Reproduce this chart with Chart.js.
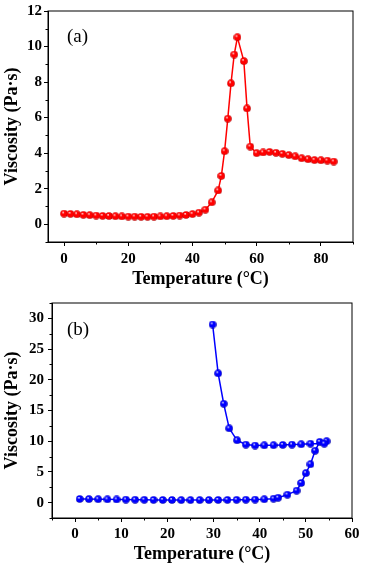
<!DOCTYPE html>
<html>
<head>
<meta charset="utf-8">
<script src="https://cdn.jsdelivr.net/npm/chart.js@4.4.0/dist/chart.umd.min.js"></script>
<style>
    html, body { margin: 0; padding: 0; background: #fff; }
    #wrap { position: relative; width: 365px; height: 567px; }
    canvas { position: absolute; left: 0; }
    #chart-a { top: 0; }
    #chart-b { top: 290px; }
</style>
</head>
<body>
<div id="wrap">
    <canvas id="chart-a" width="365" height="290"></canvas>
    <canvas id="chart-b" width="365" height="277"></canvas>
</div>
<script>
// panel (a)
const tempA = [0, 2, 4, 6, 8, 10, 12, 14, 16, 18, 20, 22, 24, 26, 28, 30, 32, 34, 36, 38, 40, 42, 44, 46, 48,
    49, 50, 51, 52, 53, 54, 56, 57, 58, 60, 62, 64, 66, 68, 70, 72, 74, 76, 78, 80, 82, 84];
const viscA = [0.60, 0.58, 0.56, 0.53, 0.51, 0.49, 0.47, 0.46, 0.45, 0.44, 0.43, 0.43, 0.42, 0.42, 0.43, 0.44, 0.45, 0.47, 0.49, 0.52, 0.57, 0.65, 0.82, 1.23, 1.90,
    2.72, 4.11, 5.94, 7.93, 9.55, 10.52, 9.18, 6.52, 4.37, 4.00, 4.04, 4.07, 4.02, 3.96, 3.89, 3.82, 3.71, 3.66, 3.61, 3.60, 3.58, 3.53];
const xTicksA = [0, 20, 40, 60, 80];
const xMinorA = [10, 30, 50, 70, 90];
const yTicksA = [0, 2, 4, 6, 8, 10, 12];
const yMinorA = [-1, 1, 3, 5, 7, 9, 11];

// panel (b): heating branch, then cooling branch back down to 30 °C
const tempB = [1, 3, 5, 7, 9, 11, 13, 15, 17, 19, 21, 23, 25, 27, 29, 31, 33, 35, 37, 39, 41, 43, 44, 46, 48, 49, 50, 51, 52, 53, 54.5, 54,
    51, 49, 47, 45, 43, 41, 39, 37, 35.1, 33.4, 32.2, 31, 29.8];
const viscB = [0.60, 0.58, 0.56, 0.54, 0.52, 0.50, 0.48, 0.47, 0.45, 0.44, 0.43, 0.42, 0.42, 0.42, 0.43, 0.44, 0.45, 0.46, 0.48, 0.50, 0.55, 0.65, 0.80, 1.30, 1.95, 3.20, 4.80, 6.25, 8.45, 9.90, 10.0, 9.60,
    9.60, 9.50, 9.45, 9.40, 9.35, 9.33, 9.30, 9.45, 10.15, 12.1, 16.1, 21.05, 29.0];
const xTicksB = [0, 10, 20, 30, 40, 50, 60];
const xMinorB = [-5, 5, 15, 25, 35, 45, 55];
const yTicksB = [0, 5, 10, 15, 20, 25, 30];
const yMinorB = [-2.5, 2.5, 7.5, 12.5, 17.5, 22.5, 27.5, 32.5];

const SERIF = '"Liberation Serif", "Times New Roman", serif';

function makeBall(color, dark) {
    const c = document.createElement('canvas');
    c.width = 8;
    c.height = 8;
    const g = c.getContext('2d');
    const grad = g.createRadialGradient(3, 2.6, 0.2, 4, 4, 4);
    grad.addColorStop(0, '#ffffff');
    grad.addColorStop(0.3, color);
    grad.addColorStop(0.8, color);
    grad.addColorStop(1, dark);
    g.fillStyle = grad;
    g.beginPath();
    g.arc(4, 4, 3.8, 0, Math.PI * 2);
    g.fill();
    return c;
}

const frameAndTicks = {
    id: 'frameAndTicks',
    afterDraw(chart, args, opts) {
        const { ctx, chartArea: a, scales } = chart;
        ctx.save();
        ctx.strokeStyle = '#000';
        ctx.lineWidth = 1;
        ctx.strokeRect(a.left, a.top, a.right - a.left, a.bottom - a.top);
        ctx.beginPath();
        opts.minorX.forEach(v => {
            const px = Math.round(scales.x.getPixelForValue(v)) + 0.5;
            ctx.moveTo(px, a.bottom);
            ctx.lineTo(px, a.bottom + 2.5);
        });
        opts.minorY.forEach(v => {
            const py = Math.round(scales.y.getPixelForValue(v)) + 0.5;
            ctx.moveTo(a.left, py);
            ctx.lineTo(a.left - 2.5, py);
        });
        ctx.stroke();
        ctx.fillStyle = '#000';
        ctx.font = '19px ' + SERIF;
        ctx.textBaseline = 'middle';
        ctx.fillText(opts.label, a.left + opts.labelDx, a.top + opts.labelDy);
        ctx.restore();
    }
};

function buildChart(id, temps, visc, o) {
    const ctx = document.getElementById(id).getContext('2d');
    const tickFont = { family: SERIF, size: 15, weight: 'bold' };
    const titleFont = { family: SERIF, size: 18, weight: 'bold' };
    return new Chart(ctx, {
        type: 'scatter',
        data: {
            datasets: [{
                data: temps.map((t, i) => ({ x: t, y: visc[i] })),
                showLine: true,
                borderColor: o.color,
                borderWidth: 1.5,
                pointStyle: makeBall(o.color, o.dark),
                pointRadius: 4
            }]
        },
        options: {
            responsive: false,
            animation: false,
            devicePixelRatio: 1,
            layout: { padding: o.padding },
            plugins: {
                legend: { display: false },
                tooltip: { enabled: false },
                frameAndTicks: { minorX: o.minorX, minorY: o.minorY, label: o.label, labelDx: o.labelDx, labelDy: o.labelDy }
            },
            scales: {
                x: {
                    type: 'linear',
                    min: o.xMin,
                    max: o.xMax,
                    afterBuildTicks: axis => { axis.ticks = o.xTicks.map(v => ({ value: v })); },
                    afterFit: s => { s.height = o.xHeight; },
                    grid: { drawOnChartArea: false, drawTicks: true, tickLength: 4, color: '#000' },
                    border: { display: true, color: '#000', width: 1 },
                    ticks: { font: tickFont, color: '#000', padding: o.xTickPad, maxRotation: 0 },
                    title: { display: true, text: 'Temperature (°C)', font: titleFont, color: '#000', padding: { top: 0, bottom: o.xTitlePad } }
                },
                y: {
                    type: 'linear',
                    min: o.yMin,
                    max: o.yMax,
                    afterBuildTicks: axis => { axis.ticks = o.yTicks.map(v => ({ value: v })); },
                    afterFit: s => { s.width = o.yWidth; },
                    grid: { drawOnChartArea: false, drawTicks: true, tickLength: 4, color: '#000' },
                    border: { display: true, color: '#000', width: 1 },
                    ticks: { font: tickFont, color: '#000', padding: o.yTickPad },
                    title: { display: true, text: 'Viscosity (Pa·s)', font: titleFont, color: '#000', padding: { top: 2, bottom: 0 } }
                }
            }
        },
        plugins: [frameAndTicks]
    });
}

buildChart('chart-a', tempA, viscA, {
    color: '#ff0000', dark: '#990000',
    xMin: -5, xMax: 90, yMin: -1, yMax: 12,
    xTicks: xTicksA, yTicks: yTicksA, minorX: xMinorA, minorY: yMinorA,
    padding: { top: 11, right: 12, bottom: 0, left: 0 },
    xHeight: 48, yWidth: 48, xTickPad: 4, yTickPad: 2, xTitlePad: 0,
    label: '(a)', labelDx: 19, labelDy: 26
});

buildChart('chart-b', tempB, viscB, {
    color: '#0000ff', dark: '#000088',
    xMin: -5, xMax: 60, yMin: -2.5, yMax: 32.5,
    xTicks: xTicksB, yTicks: yTicksB, minorX: xMinorB, minorY: yMinorB,
    padding: { top: 4, right: 13, bottom: 0, left: 0 },
    xHeight: 49, yWidth: 52, xTickPad: 3, yTickPad: 4, xTitlePad: 2,
    label: '(b)', labelDx: 15, labelDy: 27
});
</script>
</body>
</html>
